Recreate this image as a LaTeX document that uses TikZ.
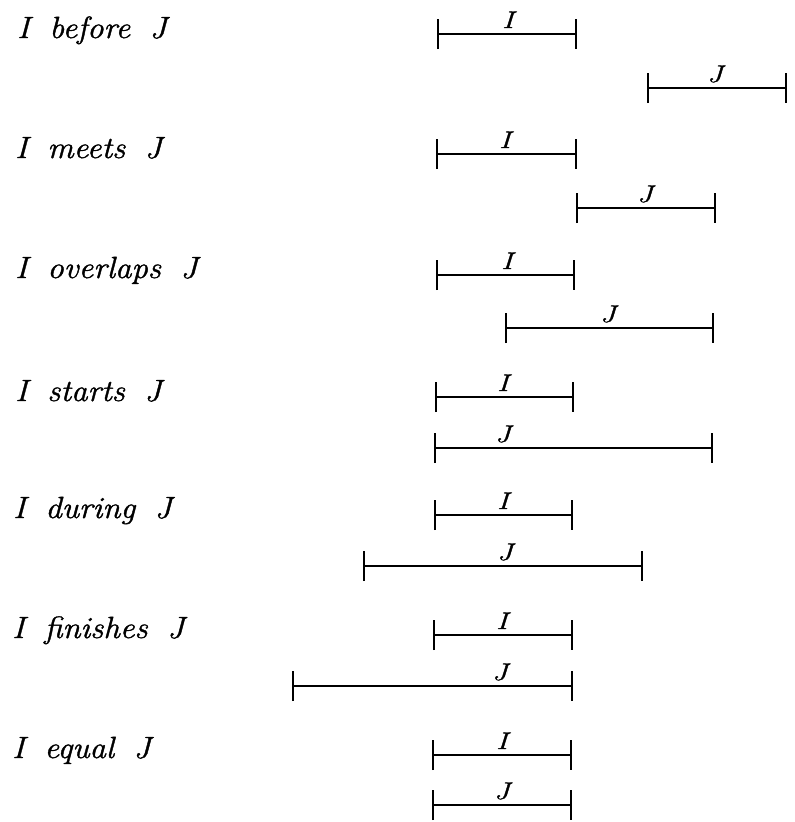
\documentclass[tikz,border=0pt]{standalone}
\usepackage{fontspec}
\usetikzlibrary{arrows.meta}
% italic Latin Modern, set a little heavier like a printed page
\newfontfamily\inkit{Latin Modern Roman}[ItalicFeatures={FakeBold=1.2}]
\newcommand\relphrase[1]{{\inkit\itshape I\hspace{0.6em}#1\hspace{0.6em}J}}
\begin{document}
\begin{tikzpicture}[x=0.75pt,y=-0.75pt,
  span/.style={line width=1.6pt,
    {Bar[width=22.5pt,line width=1.6pt]}-{Bar[width=22.5pt,line width=1.6pt]}},
  relation/.style={anchor=base west,inner sep=0pt,font=\fontsize{23}{27}\selectfont,xscale=1.07},
  endname/.style={anchor=base,inner sep=0pt,font=\fontsize{18}{22}\selectfont\inkit\itshape,xscale=1.25}]
\useasboundingbox (0,0) rectangle (794,822);

% I before J
\node[relation] (r1) at (17,38) {\relphrase{before}};
\coordinate (i1a) at (437,34); \coordinate (i1b) at (577,34);
\coordinate (j1a) at (647,88); \coordinate (j1b) at (787,88);
\draw[span] (i1a) -- (i1b);
\draw[span] (j1a) -- (j1b);
\node[endname] (ti1) at (508,28) {I};
\node[endname] (tj1) at (715,82) {J};

% I meets J
\node[relation] (r2) at (15,158) {\relphrase{meets}};
\coordinate (i2a) at (436,154); \coordinate (i2b) at (577,154);
\coordinate (j2a) at (576,208); \coordinate (j2b) at (716,208);
\draw[span] (i2a) -- (i2b);
\draw[span] (j2a) -- (j2b);
\node[endname] (ti2) at (505,148) {I};
\node[endname] (tj2) at (645,202) {J};

% I overlaps J
\node[relation] (r3) at (15,278) {\relphrase{overlaps}};
\coordinate (i3a) at (436,275); \coordinate (i3b) at (575,275);
\coordinate (j3a) at (505,328); \coordinate (j3b) at (714,328);
\draw[span] (i3a) -- (i3b);
\draw[span] (j3a) -- (j3b);
\node[endname] (ti3) at (507,269) {I};
\node[endname] (tj3) at (608,322) {J};

% I starts J
\node[relation] (r4) at (15,401) {\relphrase{starts}};
\coordinate (i4a) at (435,397); \coordinate (i4b) at (574,397);
\coordinate (j4a) at (434,448); \coordinate (j4b) at (713,448);
\draw[span] (i4a) -- (i4b);
\draw[span] (j4a) -- (j4b);
\node[endname] (ti4) at (503,391) {I};
\node[endname] (tj4) at (503,442) {J};

% I during J
\node[relation] (r5) at (13,518) {\relphrase{during}};
\coordinate (i5a) at (434,515); \coordinate (i5b) at (573,515);
\coordinate (j5a) at (363,566); \coordinate (j5b) at (643,566);
\draw[span] (i5a) -- (i5b);
\draw[span] (j5a) -- (j5b);
\node[endname] (ti5) at (503,509) {I};
\node[endname] (tj5) at (505,560) {J};

% I finishes J
\node[relation] (r6) at (12,638) {\relphrase{finishes}};
\coordinate (i6a) at (433,635); \coordinate (i6b) at (573,635);
\coordinate (j6a) at (292,686); \coordinate (j6b) at (573,686);
\draw[span] (i6a) -- (i6b);
\draw[span] (j6a) -- (j6b);
\node[endname] (ti6) at (502,629) {I};
\node[endname] (tj6) at (500,680) {J};

% I equal J
\node[relation] (r7) at (12,758) {\relphrase{equal}};
\coordinate (i7a) at (432,755); \coordinate (i7b) at (572,755);
\coordinate (j7a) at (432,805); \coordinate (j7b) at (572,805);
\draw[span] (i7a) -- (i7b);
\draw[span] (j7a) -- (j7b);
\node[endname] (ti7) at (502,749) {I};
\node[endname] (tj7) at (502,799) {J};
\end{tikzpicture}
\end{document}
